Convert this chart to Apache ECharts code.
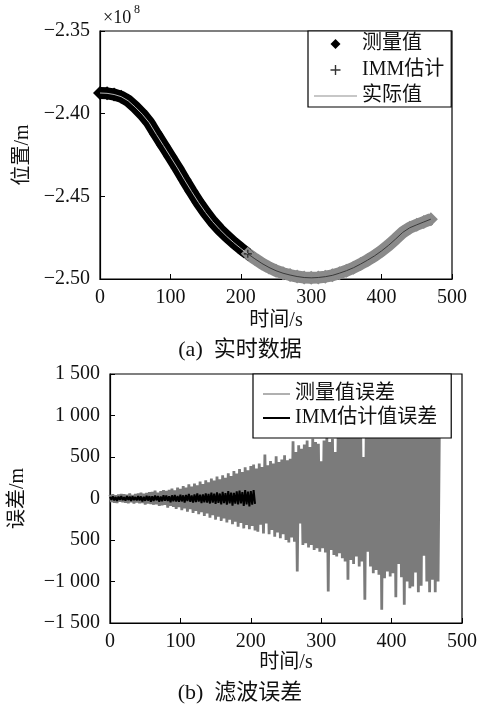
<!DOCTYPE html>
<html>
<head>
<meta charset="utf-8">
<script src="https://cdn.jsdelivr.net/npm/echarts@6/dist/echarts.min.js"></script>
<style>
html,body{margin:0;padding:0;background:#fff;}
#chart{width:480px;height:707px;}
</style>
</head>
<body>
<div id="chart"></div>
<script>
// ---------- (a) real-time position data (units of 1e8 m) ----------
const posTime = [0,10,20,30,40,50,60,70,80,90,100,110,120,130,140,150,160,170,180,190,200,210,220,230,240,250,260,270,280,290,300,310,320,330,340,350,360,370,380,390,400,410,420,430,440,450,460,470];
const posValue = [-2.3875,-2.3877,-2.3884,-2.3897,-2.3922,-2.3960,-2.4003,-2.4055,-2.4125,-2.4192,-2.4260,-2.4328,-2.4400,-2.4470,-2.4537,-2.4598,-2.4653,-2.4700,-2.4742,-2.4780,-2.4815,-2.4848,-2.4878,-2.4906,-2.4930,-2.4950,-2.4965,-2.4976,-2.4985,-2.4991,-2.4993,-2.4991,-2.4986,-2.4978,-2.4965,-2.4950,-2.4932,-2.4910,-2.4886,-2.4860,-2.4830,-2.4796,-2.4758,-2.4718,-2.4690,-2.4672,-2.4655,-2.4638];
const immEndTime = 210;            // IMM estimates (black) available up to this time
const posTickLabels = ['\u22122.50','\u22122.45','\u22122.40','\u22122.35'];
const timeTickLabels = ['0','100','200','300','400','500'];

// ---------- (b) filter errors (m), one sample every errStep seconds ----------
const errStep = 2;
const measErr = [
45,-42,52,-50,38,-55,48,-40,55,-46,
50,-52,44,-58,60,-45,42,-60,55,-50,
62,-58,70,-55,58,-72,66,-60,75,-68,
80,-75,95,-70,72,-90,88,-82,100,-78,
92,-110,105,-88,120,-100,98,-125,130,-105,
115,-140,150,-120,132,-160,170,-128,145,-175,
180,-150,160,-190,205,-165,175,-210,220,-180,
195,-230,240,-200,215,-255,265,-220,230,-270,
280,-240,250,-290,305,-255,270,-310,330,-280,
300,-340,355,-295,320,-360,375,-320,340,-370,
390,-330,410,-385,360,-400,420,-315,380,-420,
530,-300,400,-430,450,-380,420,-460,510,-410,
440,-480,470,-430,520,-500,460,-530,480,-470,
690,-520,560,-880,640,-300,600,-560,650,-540,
700,-590,620,-560,720,-620,680,-600,660,-640,
450,-600,700,-650,740,-1120,680,-620,720,-680,
560,-700,760,-660,800,-720,780,-760,820,-980,
850,-740,820,-790,880,-700,760,-820,900,-760,
500,-1220,880,-640,860,-820,900,-900,840,-860,
880,-920,820,-1340,900,-960,860,-880,940,-940,
980,-900,1000,-1190,960,-790,1020,-950,1000,-1280,
1050,-1000,980,-1080,1020,-1060,960,-890,1060,-1130,
1000,-1050,1080,-690,1020,-1000,960,-1130,1040,-980,
1000,-1130,1050,-1000,980
];
const immErr = [
20,-15,25,-22,18,-28,24,-18,30,-20,
15,-25,28,-18,22,-30,26,-20,18,-24,
30,-22,25,-35,20,-28,32,-25,28,-40,
26,-30,35,-22,30,-38,24,-32,40,-28,
35,-30,28,-45,38,-32,42,-36,30,-40,
45,-35,38,-50,42,-30,55,-40,36,-48,
50,-42,60,-38,45,-55,48,-45,62,-50,
55,-60,70,-48,58,-65,75,-52,60,-70,
80,-55,65,-75,90,-60,72,-85,68,-62,
85,-70,95,-60,78,-88,100,-72,82,-95,
90,-75,100,-65
];
const errTickLabels = ['\u22121 500','\u22121 000','500','0','500','1 000','1 500'];

// ---------- build ----------
const FONT = "'Liberation Serif','Noto Sans CJK SC',serif";
const TXT = '#111';
const posPairs = posTime.map((t,i)=>[t,posValue[i]]);
const blackPart = posPairs.filter(p=>p[0]<=immEndTime);
const grayPart = posPairs.filter(p=>p[0]>=immEndTime);
const measPairs = measErr.map((v,i)=>[i*errStep,v]);
const immPairs = immErr.map((v,i)=>[i*errStep,v]);

const PLUS = 'path://M4.3,0H5.7V4.3H10V5.7H5.7V10H4.3V5.7H0V4.3H4.3Z';
const DIAMOND = 'path://M5,0L10,5L5,10L0,5Z';

function tickFmt(labels, min, step){
  return v => { const k = Math.round((v-min)/step); return labels[k] !== undefined ? labels[k] : ''; };
}

const axisCommon = {
  axisLine:{show:true,onZero:false,lineStyle:{color:'#000',width:1.2}},
  axisTick:{show:true,inside:true,length:5,lineStyle:{color:'#000',width:1}},
  splitLine:{show:false},
  nameTextStyle:{fontFamily:FONT,fontSize:20,color:TXT}
};

const option = {
  animation:false,
  backgroundColor:'#fff',
  grid:[
    {left:100,top:31,width:352,height:248,show:true,borderColor:'#000',borderWidth:1.2,backgroundColor:'transparent'},
    {left:110,top:374,width:352,height:249,show:true,borderColor:'#000',borderWidth:1.2,backgroundColor:'transparent'}
  ],
  xAxis:[
    Object.assign({},axisCommon,{gridIndex:0,type:'value',min:0,max:500,interval:100,
      name:'时间/s',nameLocation:'middle',nameGap:32,
      axisLabel:{margin:9,fontFamily:FONT,fontSize:20,color:TXT,formatter:tickFmt(timeTickLabels,0,100)}}),
    Object.assign({},axisCommon,{gridIndex:1,type:'value',min:0,max:500,interval:100,
      name:'时间/s',nameLocation:'middle',nameGap:30,
      axisLabel:{margin:9,fontFamily:FONT,fontSize:20,color:TXT,formatter:tickFmt(timeTickLabels,0,100)}})
  ],
  yAxis:[
    Object.assign({},axisCommon,{gridIndex:0,type:'value',min:-2.50,max:-2.35,interval:0.05,
      name:'位置/m',nameLocation:'middle',nameRotate:90,nameGap:66,
      axisLabel:{margin:10,fontFamily:FONT,fontSize:20,color:TXT,formatter:tickFmt(posTickLabels,-2.50,0.05)}}),
    Object.assign({},axisCommon,{gridIndex:1,type:'value',min:-1500,max:1500,interval:500,
      name:'误差/m',nameLocation:'middle',nameRotate:90,nameGap:82,
      axisLabel:{margin:10,fontFamily:FONT,fontSize:20,color:TXT,formatter:tickFmt(errTickLabels,-1500,500)}})
  ],
  legend:[
    {
      orient:'vertical',left:308,top:31,
      backgroundColor:'#fff',borderColor:'#000',borderWidth:1.2,
      padding:[3,7,1,6],itemGap:6,itemWidth:43,itemHeight:10,itemTextGap:3,
      textStyle:{fontFamily:FONT,fontSize:20,color:TXT},
      selectedMode:false,
      data:[
        {name:'测量值',icon:DIAMOND,itemStyle:{color:'#000'}},
        {name:'IMM估计',icon:PLUS,itemStyle:{color:'#000'}},
        {name:'实际值',icon:'path://M0,0H43V1.5H0Z',itemStyle:{color:'#b4b4b4'}}
      ]
    },
    {
      orient:'vertical',left:253,top:374,
      backgroundColor:'#fff',borderColor:'#000',borderWidth:1.2,
      padding:[10,14,10,10],itemGap:4,itemWidth:27,itemHeight:10,itemTextGap:13,
      textStyle:{fontFamily:FONT,fontSize:20,color:TXT},
      selectedMode:false,
      data:[
        {name:'测量值误差',icon:'path://M0,0H27V2H0Z',itemStyle:{color:'#b0b0b0'}},
        {name:'IMM估计值误差',icon:'path://M0,0H27V2H0Z',itemStyle:{color:'#000'}}
      ]
    }
  ],
  series:[
    {name:'测量值',type:'line',xAxisIndex:0,yAxisIndex:0,data:blackPart,clip:false,
      lineStyle:{color:'#000',width:12},itemStyle:{color:'#000'},
      symbol:'diamond',symbolSize:14,showSymbol:true,showAllSymbol:true,z:2},
    {name:'测量值',type:'line',xAxisIndex:0,yAxisIndex:0,data:grayPart,clip:false,
      lineStyle:{color:'#8a8a8a',width:12},itemStyle:{color:'#8a8a8a'},
      symbol:'diamond',symbolSize:14,showSymbol:true,showAllSymbol:true,z:2},
    {name:'IMM估计',type:'scatter',xAxisIndex:0,yAxisIndex:0,data:blackPart,
      symbol:PLUS,symbolSize:8,itemStyle:{color:'#000'},z:3},
    {name:'实际值',type:'line',xAxisIndex:0,yAxisIndex:0,data:blackPart,
      lineStyle:{color:'#b4b4b4',width:1},itemStyle:{color:'#b4b4b4'},showSymbol:false,z:4},
    {name:'实际值',type:'line',xAxisIndex:0,yAxisIndex:0,data:grayPart,
      lineStyle:{color:'#3a3a3a',width:1},itemStyle:{color:'#3a3a3a'},showSymbol:false,z:4},
    {name:'测量值误差',type:'line',xAxisIndex:1,yAxisIndex:1,data:measPairs,
      lineStyle:{color:'#7b7b7b',width:2.8,join:'bevel'},itemStyle:{color:'#7b7b7b'},showSymbol:false,z:2},
    {name:'IMM估计值误差',type:'line',xAxisIndex:1,yAxisIndex:1,data:immPairs,
      lineStyle:{color:'#000',width:2,join:'bevel'},itemStyle:{color:'#000'},showSymbol:false,z:3}
  ],
  graphic:[
    {type:'text',left:103,top:9,style:{text:'×10',fontFamily:FONT,fontSize:18,fill:TXT}},
    {type:'text',left:134,top:4,style:{text:'8',fontFamily:FONT,fontSize:12,fill:TXT}},
    {type:'text',left:'center',top:339,style:{text:'(a)  实时数据',fontFamily:FONT,fontSize:22,fill:TXT}},
    {type:'text',left:'center',top:682,style:{text:'(b)  滤波误差',fontFamily:FONT,fontSize:22,fill:TXT}}
  ]
};
const chart = echarts.init(document.getElementById('chart'),null,{renderer:'canvas'});
chart.setOption(option);
</script>
</body>
</html>
